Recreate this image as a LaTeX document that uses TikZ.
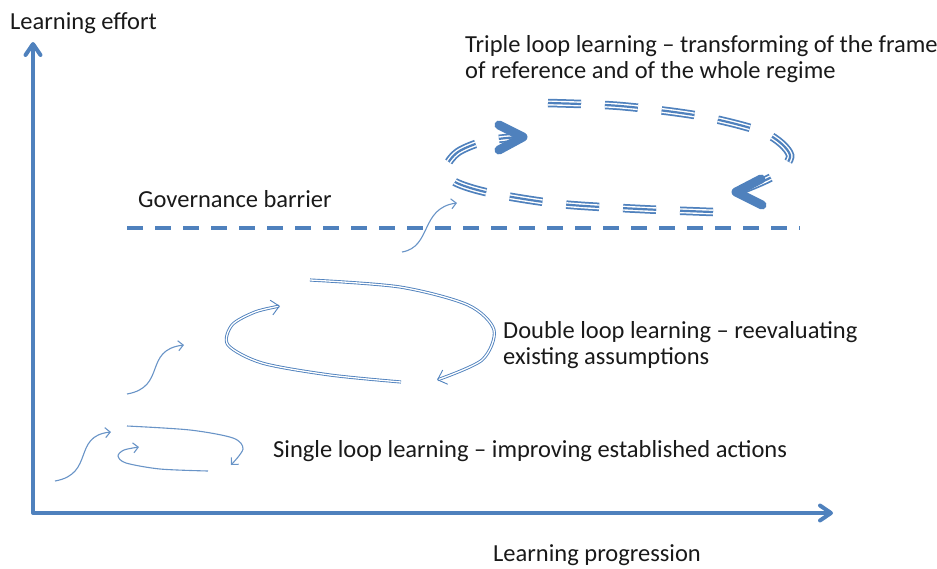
\documentclass[tikz,border=0pt]{standalone}
\usepackage{fontspec}
\setmainfont{Carlito}
\usepackage{xcolor}
\usetikzlibrary{arrows.meta}
\definecolor{loopblue}{RGB}{79,129,189}

\begin{document}
\begin{tikzpicture}[x=1pt,y=-1pt,
	lbl/.style={anchor=base west,inner sep=0pt,align=left,font=\fontsize{24.5}{26}\selectfont,text=black!90},
	axis/.style={loopblue,line width=4pt,line join=round,{Straight Barb[round,length=11pt,width=15pt]}-{Straight Barb[round,length=11pt,width=15pt]}},
	barrier/.style={loopblue,line width=3.5pt,dash pattern=on 16pt off 12pt},
	tripledash/.style={loopblue,line width=8.5pt,dash pattern=on 33pt off 24pt,
		postaction={draw=white,line width=5pt,dash pattern=on 33pt off 24pt},
		postaction={draw=loopblue,line width=2.2pt,dash pattern=on 33pt off 24pt}},
	chevron/.style={loopblue,line width=9pt,line cap=round,line join=round},
	doubleline/.style={loopblue,line width=0.9pt,double=white,double distance=1.3pt,-{Straight Barb[length=8pt,width=15pt]}},
	thinline/.style={loopblue!85,line width=1.1pt,-{Straight Barb[length=5pt,width=10pt]}}]
				\useasboundingbox (0,0) rectangle (937,568);
				\coordinate (O) at (33,513);
				\coordinate (Ytop) at (33,42);
				\coordinate (Xend) at (833,513);
				\draw[axis] (Ytop) -- (O) -- (Xend);
				\node[lbl] (effort) at (10,29) {Learning effort};
				\node[lbl] (progress) at (493,561) {Learning progression};
				\coordinate (B1) at (127,228);
				\coordinate (B2) at (800,228);
				\draw[barrier] (B1) -- (B2);
				\node[lbl] (govern) at (138,207) {Governance barrier};
				\node[lbl] (triple) at (465,78) {Triple loop learning -- transforming of the frame\\of reference and of the whole regime};
				\node[lbl] (double) at (503,364) {Double loop learning -- reevaluating\\existing assumptions};
				\node[lbl] (single) at (273,457) {Single loop learning -- improving established actions};
				\draw[tripledash] plot[smooth] coordinates {(548,103) (620,106) (700,116) (765,133) (790,155) (775,175) (742,190)};
				\draw[tripledash] plot[smooth] coordinates {(713,212) (640,209) (560,204) (490,193) (455,182) (446,168) (458,152) (485,141) (518,137)};
				\draw[chevron] (499,125) -- (523,137) -- (499,150);
				\draw[chevron] (761,179) -- (736,192) -- (762,205);
				\draw[doubleline] plot[smooth] coordinates {(310,280) (400,287) (468,305) (494,330) (482,360) (437,380)};
				\draw[doubleline] plot[smooth] coordinates {(401,382) (330,375) (262,363) (228,345) (232,325) (255,312) (280,306)};
				\draw[thinline] plot[smooth] coordinates {(127,426) (190,430) (233,438) (243,449) (231,465)};
				\draw[thinline] plot[smooth] coordinates {(208,471) (160,469) (126,463) (118,456) (124,450) (139,447)};
				\draw[thinline] (55,481) .. controls (95,474) and (72,436) .. (111,432);
				\draw[thinline] (127,394) .. controls (167,387) and (143,350) .. (184,345);
				\draw[thinline] (402,252) .. controls (432,247) and (420,208) .. (457,203);
			\end{tikzpicture}
\end{document}
